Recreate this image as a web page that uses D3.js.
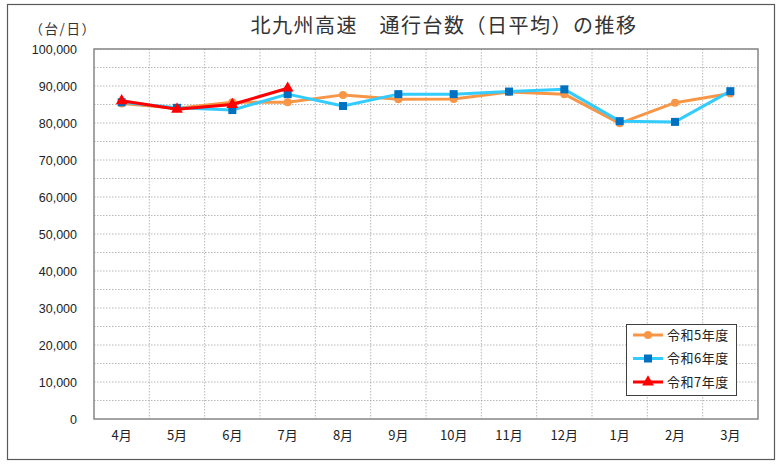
<!DOCTYPE html>
<html><head><meta charset="utf-8">
<script src="https://cdn.jsdelivr.net/npm/d3@7"></script>
<style>body{margin:0;background:#fff}svg{display:block}text{font-family:"Noto Sans CJK JP","Noto Sans",sans-serif}</style>
</head><body><svg id="c" width="783" height="467"></svg>
<script>
const months = ["4月","5月","6月","7月","8月","9月","10月","11月","12月","1月","2月","3月"];
const r5 = [85300,84000,85600,85600,87600,86400,86500,88400,87800,79900,85500,88000];
const r6 = [85600,84100,83500,87800,84600,87800,87800,88500,89100,80500,80300,88600];
const r7 = [86000,83700,85000,89400];
const seriesNames = ["令和5年度","令和6年度","令和7年度"];
const yTicks = d3.range(0,100001,10000);

const svg = d3.select("#c");
svg.append("rect").attr("x",7.5).attr("y",4.5).attr("width",767).attr("height",455)
  .attr("fill","#fff").attr("stroke","#595959").attr("stroke-width",1.2);

const L=94,R=758,T=49,B=419;
const x = d3.scaleBand().domain(months).range([L,R]);
const y = d3.scaleLinear().domain([0,100000]).range([B,T]);

// gridlines
const g = svg.append("g");
g.selectAll("line.h").data(d3.range(5000,100001,5000)).join("line")
  .attr("x1",L).attr("x2",R).attr("y1",d=>y(d)).attr("y2",d=>y(d))
  .attr("stroke","#a6a6a6").attr("stroke-width",0.8).attr("stroke-dasharray","1.5,1.5");
g.selectAll("line.v").data(months.slice(1)).join("line")
  .attr("x1",d=>x(d)).attr("x2",d=>x(d)).attr("y1",T).attr("y2",B)
  .attr("stroke","#a6a6a6").attr("stroke-width",0.8).attr("stroke-dasharray","1.5,1.5");
svg.append("rect").attr("x",L).attr("y",T).attr("width",R-L).attr("height",B-T)
  .attr("fill","none").attr("stroke","#868686").attr("stroke-width",1.5);

// axes
const ya = svg.append("g").attr("transform",`translate(${L},0)`)
  .call(d3.axisLeft(y).tickValues(yTicks).tickFormat(d3.format(",")).tickSize(0).tickPadding(17));
ya.select(".domain").remove();
ya.selectAll("text").attr("font-size",12.5).attr("fill","#222").style("font-family","'Liberation Sans',sans-serif");
const xa = svg.append("g").attr("transform",`translate(0,${B})`)
  .call(d3.axisBottom(x).tickSize(0).tickPadding(12));
xa.select(".domain").remove();
xa.selectAll("text").attr("font-size",13).attr("fill","#222");

// title
svg.append("text").attr("x",444).attr("y",33).attr("text-anchor","middle")
  .attr("font-size",20).attr("letter-spacing",1.5).attr("fill","#333").text("北九州高速　通行台数（日平均）の推移");
svg.append("text").attr("x",63).attr("y",34).attr("text-anchor","middle")
  .attr("font-size",13.5).attr("letter-spacing",1.5).attr("fill","#333").text("（台/日）");

const cx = d=>x(d)+x.bandwidth()/2;
const line = d3.line().x((d,i)=>cx(months[i])).y(d=>y(d));
const tri = d3.symbol().type(d3.symbolTriangle).size(60);

// R5 orange
svg.append("path").datum(r5).attr("d",line).attr("fill","none").attr("stroke","#f79646").attr("stroke-width",3).attr("stroke-linejoin","round");
svg.selectAll("circle.r5").data(r5).join("circle").attr("cx",(d,i)=>cx(months[i])).attr("cy",d=>y(d)).attr("r",4).attr("fill","#f79646");
// R6 blue
svg.append("path").datum(r6).attr("d",line).attr("fill","none").attr("stroke","#33ccff").attr("stroke-width",3).attr("stroke-linejoin","round");
svg.selectAll("rect.r6").data(r6).join("rect").attr("x",(d,i)=>cx(months[i])-4).attr("y",d=>y(d)-4).attr("width",8).attr("height",8).attr("fill","#0070c0");
// R7 red
svg.append("path").datum(r7).attr("d",line).attr("fill","none").attr("stroke","#ff0000").attr("stroke-width",3).attr("stroke-linejoin","round");
svg.selectAll("path.r7").data(r7).join("path").attr("d",tri).attr("transform",(d,i)=>`translate(${cx(months[i])},${y(d)})`).attr("fill","#ff0000");

// legend
const lg = svg.append("g");
lg.append("rect").attr("x",626.5).attr("y",324.5).attr("width",110).attr("height",71).attr("fill","#fff").attr("stroke","#404040").attr("stroke-width",1);
const colors=[["#f79646","#f79646"],["#33ccff","#0070c0"],["#ff0000","#ff0000"]];
seriesNames.forEach((n,i)=>{
  const yy=335+i*23.5;
  lg.append("line").attr("x1",633).attr("x2",663).attr("y1",yy).attr("y2",yy).attr("stroke",colors[i][0]).attr("stroke-width",3);
  if(i===0) lg.append("circle").attr("cx",648).attr("cy",yy).attr("r",4).attr("fill",colors[i][1]);
  else if(i===1) lg.append("rect").attr("x",644).attr("y",yy-4).attr("width",8).attr("height",8).attr("fill",colors[i][1]);
  else lg.append("path").attr("d",tri).attr("transform",`translate(648,${yy})`).attr("fill",colors[i][1]);
  lg.append("text").attr("x",667).attr("y",yy+4.5).attr("font-size",13).attr("letter-spacing",0.5).attr("fill","#222").text(n);
});
</script></body></html>
